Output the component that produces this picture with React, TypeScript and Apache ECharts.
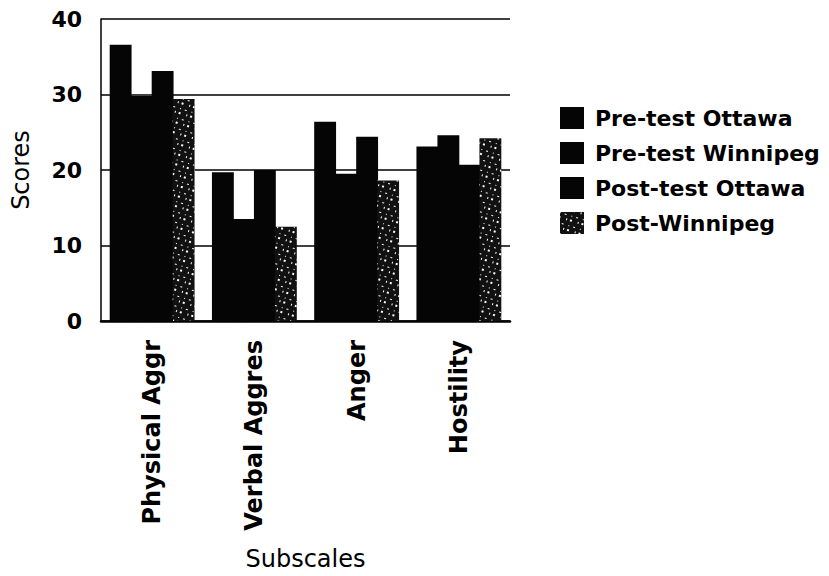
import React, { useEffect, useRef } from "react";
import * as echarts from "echarts";

const categories = ["Physical Aggr", "Verbal Aggres", "Anger", "Hostility"];
const seriesNames = ["Pre-test Ottawa", "Pre-test Winnipeg", "Post-test Ottawa", "Post-Winnipeg"];
const preOttawa = [36.6, 19.7, 26.4, 23.1];
const preWinnipeg = [29.8, 13.5, 19.5, 24.6];
const postOttawa = [33.1, 20.0, 24.4, 20.7];
const postWinnipeg = [29.4, 12.5, 18.6, 24.2];
const yTicks = [0, 10, 20, 30, 40];

export default function App() {
  const ref = useRef<HTMLDivElement>(null);
  useEffect(() => {
    if (!ref.current) return;
    const chart = echarts.init(ref.current, null, { renderer: "svg" });
    const values = [preOttawa, preWinnipeg, postOttawa, postWinnipeg];
    const speckle = {
      symbol: "rect",
      color: "#ffffff",
      symbolSize: 1,
      dashArrayX: [[1, 4, 2, 5], [2, 6, 1, 3]],
      dashArrayY: [1, 3, 2, 4],
      rotation: 0.3,
    };
    chart.setOption({
      animation: false,
      backgroundColor: "#ffffff",
      grid: { left: 101, right: 319, top: 19, bottom: 253, containLabel: false },
      legend: {
        orient: "vertical",
        left: 555,
        top: 102,
        itemWidth: 24,
        itemHeight: 22,
        itemGap: 13,
        icon: "rect",
        data: seriesNames,
        itemStyle: { borderWidth: 0 },
        textStyle: {
          fontFamily: "DejaVu Sans",
          fontWeight: "bold",
          fontSize: 22,
          color: "#000",
          padding: [0, 0, 0, 6],
        },
      },
      xAxis: {
        type: "category",
        data: categories,
        name: "Subscales",
        nameLocation: "middle",
        nameGap: 226,
        nameTextStyle: { fontFamily: "DejaVu Sans", fontSize: 24, color: "#000" },
        axisLine: { lineStyle: { color: "#000", width: 2.5 } },
        axisTick: { show: false },
        axisLabel: {
          rotate: 90,
          margin: 19,
          interval: 0,
          fontFamily: "DejaVu Sans",
          fontWeight: "bold",
          fontSize: 24,
          color: "#000",
        },
      },
      yAxis: {
        type: "value",
        min: yTicks[0],
        max: yTicks[yTicks.length - 1],
        interval: 10,
        name: "Scores",
        nameLocation: "middle",
        nameGap: 68,
        nameTextStyle: { fontFamily: "DejaVu Sans", fontSize: 24, color: "#000" },
        axisLine: { show: true, lineStyle: { color: "#000", width: 1.5 } },
        axisTick: { show: false },
        splitLine: { lineStyle: { color: "#000", width: 1.5 } },
        axisLabel: {
          margin: 19,
          fontFamily: "DejaVu Sans",
          fontWeight: "bold",
          fontSize: 22,
          color: "#000",
        },
      },
      series: seriesNames.map((name, i) => ({
        name,
        type: "bar",
        data: values[i],
        barGap: "-4%",
        barCategoryGap: "17%",
        itemStyle: i === 3 ? { color: "#111", decal: speckle } : { color: "#050505" },
      })),
    });
    return () => chart.dispose();
  }, []);
  return (
    <div
      ref={ref}
      style={{ position: "fixed", left: 0, top: 0, width: 829, height: 576, background: "#fff" }}
    />
  );
}
